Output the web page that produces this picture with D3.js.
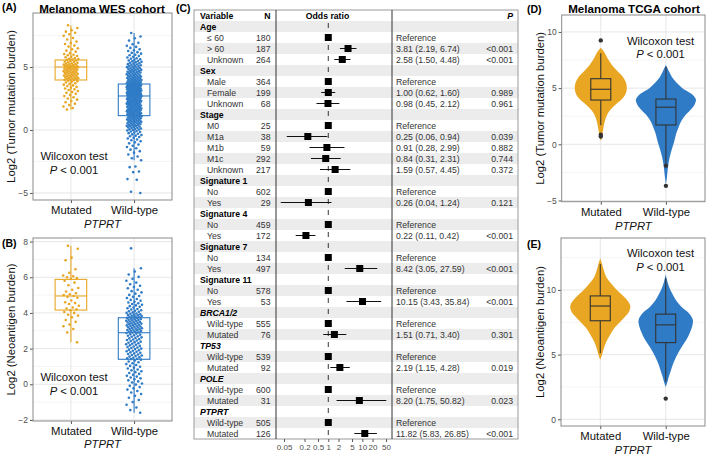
<!DOCTYPE html>
<html><head><meta charset="utf-8">
<script src="https://cdn.jsdelivr.net/npm/d3@7"></script>
<style>
body{margin:0;background:#fff}
svg{display:block;font-family:"Liberation Sans",Arial,sans-serif}
</style>
</head><body>
<svg id="c" width="709" height="458"></svg>
<script>
// ---------------- DATA ----------------
const groups = ["Mutated", "Wild-type"];

// (A) WES cohort, log2 tumor mutation burden (jittered points)
const wesTmbMut = [8.32,8.1,7.93,7.81,7.72,7.6,7.48,7.31,7.18,7.02,6.91,6.83,6.7,6.62,6.49,6.41,6.3,6.22,6.1,6.04,5.98,5.93,5.87,5.82,5.78,5.71,5.66,5.63,5.59,5.57,5.52,5.48,5.44,5.41,5.37,5.33,5.3,5.27,5.24,5.21,5.19,5.16,5.13,5.11,5.08,5.06,5.03,5.01,4.99,4.97,4.94,4.91,4.89,4.86,4.83,4.81,4.78,4.76,4.73,4.7,4.68,4.66,4.63,4.6,4.58,4.56,4.53,4.5,4.48,4.45,4.42,4.4,4.37,4.35,4.32,4.3,4.27,4.24,4.22,4.19,4.16,4.14,4.11,4.09,4.06,4.03,4.01,3.98,3.95,3.91,3.87,3.82,3.77,3.71,3.66,3.6,3.54,3.49,3.42,3.36,3.3,3.24,3.17,3.1,3.02,2.95,2.87,2.78,2.69,2.6,2.5,2.41,2.3,2.2,2.09,1.98,1.86,1.74,1.62];
const wesTmbWt = [7.7,7.42,7.28,7.1,6.93,6.81,6.69,6.6,6.52,6.41,6.33,6.27,6.18,6.12,6.06,5.98,5.93,5.87,5.81,5.76,5.7,5.66,5.61,5.57,5.52,5.48,5.45,5.41,5.37,5.33,5.3,5.27,5.23,5.2,5.17,5.14,5.11,5.08,5.05,5.02,4.99,4.96,4.93,4.9,4.88,4.85,4.82,4.79,4.77,4.74,4.71,4.69,4.66,4.63,4.61,4.58,4.56,4.53,4.51,4.48,4.46,4.43,4.41,4.38,4.36,4.34,4.31,4.29,4.27,4.24,4.22,4.2,4.18,4.15,4.13,4.11,4.09,4.07,4.05,4.02,4.0,3.98,3.96,3.94,3.92,3.9,3.88,3.86,3.84,3.82,3.8,3.79,3.77,3.75,3.73,3.71,3.69,3.68,3.66,
3.64,3.62,3.61,3.59,3.58,3.56,3.55,3.55,3.53,3.51,3.5,3.48,3.47,3.46,3.45,3.43,3.42,3.41,3.39,3.38,3.38,3.36,3.34,3.33,3.31,3.3,3.29,3.28,3.26,3.25,3.24,3.22,3.21,3.2,3.19,3.17,3.16,3.14,3.13,3.12,3.11,3.09,3.08,3.06,3.05,3.04,3.03,3.01,2.99,2.98,2.97,2.96,2.94,2.93,2.91,2.9,2.89,2.88,2.86,2.85,2.84,2.82,2.81,2.8,2.78,2.77,2.76,2.75,2.74,2.72,2.71,2.71,
2.69,2.67,2.65,2.64,2.62,2.6,2.58,2.57,2.55,2.53,2.51,2.5,2.48,2.46,2.44,2.43,2.41,2.39,2.37,2.36,2.34,2.32,2.3,2.28,2.27,2.25,2.23,2.21,2.2,2.18,2.16,2.14,2.12,2.11,2.09,2.07,2.05,2.03,2.02,2.0,1.98,1.96,1.94,1.93,1.91,1.89,1.87,1.85,1.84,1.82,1.8,1.78,1.76,1.75,1.73,1.71,1.69,1.67,1.66,1.64,1.62,1.6,1.58,1.57,1.55,1.53,1.51,1.49,1.48,1.46,1.44,1.42,1.4,1.39,1.37,1.35,1.33,1.31,1.3,1.28,1.26,1.24,1.22,1.21,1.19,1.17,1.15,
1.13,1.11,1.09,1.07,1.05,1.03,1.01,0.99,0.97,0.95,0.93,0.91,0.89,0.87,0.85,0.83,0.8,0.78,0.76,0.74,0.72,0.7,0.67,0.65,0.63,0.61,0.58,0.56,0.54,0.51,0.49,0.47,0.44,0.42,0.39,0.37,0.34,0.32,0.29,0.27,0.24,0.21,0.18,0.15,0.12,0.09,0.06,0.03,0.0,-0.04,-0.08,-0.12,-0.16,-0.2,-0.25,-0.3,-0.35,-0.4,-0.45,-0.5,-0.56,-0.62,-0.68,-0.75,-0.82,-0.9,-0.98,-1.06,-1.15,-1.25,-1.35,-1.45,-1.56,-1.68,-1.8,-1.95,-2.1,-2.25,-2.4,-2.9,-2.95,-3.3,-3.35,-3.9,-3.95,-4.9,-5.0];
// box stats [lower whisker, Q1, median, Q3, upper whisker]
const wesTmbBoxMut = [1.6, 3.97, 5.0, 5.56, 8.3];
const wesTmbBoxWt  = [-2.4, 1.14, 2.7, 3.65, 7.7];

// (B) WES cohort, log2 neoantigen burden
const wesNeoMut = [7.76,7.6,7.1,6.95,6.45,6.25,6.1,6.05,6.0,5.95,5.9,5.8,5.7,5.55,5.4,5.3,5.2,5.1,5.05,5.0,4.95,4.9,4.85,4.7,4.6,4.55,4.5,4.4,4.3,4.25,4.2,4.15,4.05,4.0,3.9,3.85,3.75,3.6,3.5,3.35,3.25,3.1,2.9,2.35];
const wesNeoWt = [7.62,6.5,6.32,6.15,6.02,5.91,5.8,5.7,5.61,5.52,5.45,5.38,5.3,5.22,5.15,5.08,5.01,4.95,4.9,4.84,4.78,4.73,4.68,4.63,4.58,4.54,4.5,4.46,4.42,4.38,4.34,4.3,4.26,4.22,4.19,4.15,4.12,4.09,4.06,4.03,4.0,3.97,3.95,3.92,3.9,3.88,3.86,3.84,3.82,3.8,3.78,3.76,3.74,
3.72,3.7,3.68,3.66,3.64,3.62,3.6,3.58,3.56,3.54,3.52,3.5,3.48,3.46,3.44,3.42,3.4,3.38,3.36,3.34,3.32,3.3,3.28,3.26,3.24,3.22,3.2,3.18,3.16,3.14,3.12,3.1,3.08,3.06,3.04,3.02,3.0,2.98,2.96,2.94,2.92,2.9,
2.87,2.84,2.81,2.78,2.75,2.72,2.69,2.66,2.63,2.6,2.57,2.54,2.51,2.48,2.45,2.42,2.39,2.36,2.33,2.3,2.27,2.24,2.21,2.18,2.15,2.12,2.09,2.06,2.03,2.0,1.97,1.94,1.91,1.88,1.85,1.82,1.79,1.76,1.73,1.7,1.67,1.64,1.61,1.58,1.55,1.52,1.49,1.46,1.43,1.41,
1.38,1.33,1.28,1.23,1.18,1.13,1.08,1.03,0.98,0.93,0.88,0.83,0.78,0.73,0.68,0.63,0.58,0.53,0.48,0.43,0.38,0.33,0.28,0.22,0.16,0.1,0.04,-0.02,-0.09,-0.16,-0.23,-0.3,-0.38,-0.46,-0.55,-0.65,-0.76,-0.88,-1.0,-1.15,-1.3,-1.45,-1.6];
const wesNeoBoxMut = [2.35, 4.16, 4.95, 5.88, 7.76];
const wesNeoBoxWt  = [-1.6, 1.4, 2.89, 3.73, 6.5];

// (C) Forest plot table
const rowLabels = ["Age","≤ 60","> 60","Unknown","Sex","Male","Female","Unknown","Stage","M0","M1a","M1b","M1c","Unknown",
  "Signature 1","No","Yes","Signature 4","No","Yes","Signature 7","No","Yes","Signature 11","No","Yes",
  "BRCA1/2","Wild-type","Mutated","TP53","Wild-type","Mutated","POLE","Wild-type","Mutated","PTPRT","Wild-type","Mutated"];
const rowN  = [null,180,187,264,null,364,199,68,null,25,38,59,292,217,null,602,29,null,459,172,null,134,497,null,578,53,null,555,76,null,539,92,null,600,31,null,505,126];
const rowOR = [null,1,3.81,2.58,null,1,1.00,0.98,null,1,0.25,0.91,0.84,1.59,null,1,0.26,null,1,0.22,null,1,8.42,null,1,10.15,null,1,1.51,null,1,2.19,null,1,8.20,null,1,11.82];
const rowLo = [null,null,2.19,1.50,null,null,0.62,0.45,null,null,0.06,0.28,0.31,0.57,null,null,0.04,null,null,0.11,null,null,3.05,null,null,3.43,null,null,0.71,null,null,1.15,null,null,1.75,null,null,5.83];
const rowHi = [null,null,6.74,4.48,null,null,1.60,2.12,null,null,0.94,2.99,2.31,4.45,null,null,1.24,null,null,0.42,null,null,27.59,null,null,35.84,null,null,3.40,null,null,4.28,null,null,50.82,null,null,26.85];
const rowP  = ["","","<0.001","<0.001","","","0.989","0.961","","","0.039","0.882","0.744","0.372","","","0.121","","","<0.001","","","<0.001","","","<0.001","","","0.301","","","0.019","","","0.023","","","<0.001"];
const italicHeaders = ["BRCA1/2","TP53","POLE","PTPRT"];
const orTicks = [0.05,0.2,0.5,1,2,5,10,20,50];

// (D) TCGA cohort, log2 TMB violin densities [value, density]
const tcgaTmbDensMut = [[8.6,0],[8.3,0.09],[8.0,0.16],[7.5,0.26],[7.0,0.39],[6.5,0.56],[6.0,0.74],[5.5,0.84],[5.0,0.87],[4.5,0.83],[4.0,0.7],[3.5,0.48],[3.0,0.3],[2.5,0.19],[2.0,0.13],[1.5,0.09],[1.0,0.06],[0.6,0.035],[0.3,0]];
const tcgaTmbDensWt  = [[7.05,0],[6.5,0.1],[6.0,0.2],[5.5,0.35],[5.0,0.55],[4.5,0.85],[4.0,1.0],[3.5,0.95],[3.0,0.8],[2.5,0.62],[2.0,0.5],[1.5,0.42],[1.0,0.35],[0.5,0.3],[0.0,0.25],[-0.5,0.19],[-1.0,0.14],[-1.5,0.1],[-2.0,0.07],[-2.5,0.05],[-3.0,0.03],[-3.6,0]];
const tcgaTmbBoxMut = [1.7, 3.94, 4.9, 5.84, 8.1];
const tcgaTmbBoxWt  = [-1.7, 1.72, 3.3, 4.03, 6.9];
const tcgaTmbOutMut = [9.25, 0.85, 0.7];
const tcgaTmbOutWt  = [-1.9, -3.7];

// (E) TCGA cohort, log2 neoantigen burden
const tcgaNeoDensMut = [[12.45,0],[12.0,0.06],[11.5,0.12],[11.0,0.2],[10.5,0.36],[10.0,0.55],[9.5,0.78],[9.0,0.96],[8.7,1.0],[8.3,0.95],[8.0,0.85],[7.5,0.65],[7.0,0.45],[6.5,0.32],[6.0,0.2],[5.5,0.12],[5.0,0.06],[4.6,0]];
const tcgaNeoDensWt  = [[11.2,0],[10.7,0.05],[10.2,0.12],[9.7,0.22],[9.2,0.34],[8.7,0.52],[8.2,0.77],[7.7,0.9],[7.2,0.88],[6.7,0.8],[6.2,0.7],[5.7,0.56],[5.2,0.43],[4.7,0.32],[4.2,0.23],[3.7,0.16],[3.2,0.09],[2.8,0.045],[2.5,0]];
const tcgaNeoBoxMut = [5.1, 7.62, 8.76, 9.54, 12.0];
const tcgaNeoBoxWt  = [2.9, 5.93, 7.3, 8.13, 10.9];
const tcgaNeoOutMut = [];
const tcgaNeoOutWt  = [1.6];

// ---------------- STYLE ----------------
const ORANGE = "#E8A623", BLUE = "#2F7BC6";
const colorOf = {"Mutated": ORANGE, "Wild-type": BLUE};
const svg = d3.select("#c");

function txt(x, y, s, o = {}) {
  const t = svg.append("text").attr("x", x).attr("y", y).text(s)
    .attr("font-size", o.size || 11).attr("fill", o.fill || "#000")
    .attr("text-anchor", o.anchor || "start");
  if (o.bold) t.attr("font-weight", "bold");
  if (o.italic) t.attr("font-style", "italic");
  if (o.rotate) t.attr("transform", `rotate(-90,${x},${y})`);
  return t;
}

function frame(o) {
  const {left, right, top, bottom, domain, majors, minors} = o;
  const y = d3.scaleLinear().domain(domain).range([bottom, top]);
  const x = d3.scalePoint().domain(groups).range([left, right]).padding(0.6);
  const g = svg.append("g");
  g.append("rect").attr("x", left).attr("y", top).attr("width", right - left).attr("height", bottom - top).attr("fill", "#fff");
  g.selectAll(null).data(minors).join("line")
    .attr("x1", left).attr("x2", right).attr("y1", d => y(d)).attr("y2", d => y(d))
    .attr("stroke", "#f0f0f0").attr("stroke-width", 0.7);
  g.selectAll(null).data(majors).join("line")
    .attr("x1", left).attr("x2", right).attr("y1", d => y(d)).attr("y2", d => y(d))
    .attr("stroke", "#e3e3e3").attr("stroke-width", 0.9);
  g.selectAll(null).data(groups).join("line")
    .attr("x1", d => x(d)).attr("x2", d => x(d)).attr("y1", top).attr("y2", bottom)
    .attr("stroke", "#e3e3e3").attr("stroke-width", 0.9);
  const ya = svg.append("g").attr("transform", `translate(${left},0)`)
    .call(d3.axisLeft(y).tickValues(majors).tickSize(3).tickPadding(2).tickFormat(d3.format("d")));
  ya.select(".domain").remove();
  ya.selectAll("line").attr("stroke", "#555");
  ya.selectAll("text").attr("font-size", 8.5).attr("fill", "#4d4d4d").attr("font-family", "Liberation Sans, Arial, sans-serif");
  const xa = svg.append("g").attr("transform", `translate(0,${bottom})`)
    .call(d3.axisBottom(x).tickSize(3).tickPadding(3));
  xa.select(".domain").remove();
  xa.selectAll("line").attr("stroke", "#555");
  xa.selectAll("text").attr("font-size", 11.3).attr("fill", "#111").attr("font-family", "Liberation Sans, Arial, sans-serif");
  txt((left + right) / 2, bottom + o.geneDy, "PTPRT", {size: 11.3, italic: true, anchor: "middle", fill: "#111"});
  txt(o.ylabX, (top + bottom) / 2, o.ylab, {size: 11.3, anchor: "middle", rotate: true, fill: "#111"});
  o.x = x; o.y = y;
  return o;
}

function border(o) {
  svg.append("rect").attr("x", o.left).attr("y", o.top).attr("width", o.right - o.left).attr("height", o.bottom - o.top)
    .attr("fill", "none").attr("stroke", "#8a8a8a").attr("stroke-width", 1);
}

function wilcoxon(cx, y) {
  txt(cx, y, "Wilcoxon test", {size: 11.3, anchor: "middle", fill: "#111"});
  const t = txt(cx, y + 13.5, "", {size: 11.3, anchor: "middle", fill: "#111"});
  t.append("tspan").attr("font-style", "italic").text("P");
  t.append("tspan").text(" < 0.001");
}

function jitterPanel(o, dataMut, dataWt, boxMut, boxWt, jw, r) {
  const {x, y} = o;
  const bw = x.step() * 0.25;
  [["Mutated", boxMut], ["Wild-type", boxWt]].forEach(([grp, b]) => {
    const cx = x(grp), c = colorOf[grp];
    const g = svg.append("g").attr("stroke", c).attr("stroke-width", 1.1).attr("fill", "none");
    g.append("line").attr("x1", cx).attr("x2", cx).attr("y1", y(b[0])).attr("y2", y(b[1]));
    g.append("line").attr("x1", cx).attr("x2", cx).attr("y1", y(b[3])).attr("y2", y(b[4]));
    g.append("rect").attr("x", cx - bw).attr("width", 2 * bw).attr("y", y(b[3])).attr("height", y(b[1]) - y(b[3]));
    g.append("line").attr("x1", cx - bw).attr("x2", cx + bw).attr("y1", y(b[2])).attr("y2", y(b[2]));
  });
  [["Mutated", dataMut], ["Wild-type", dataWt]].forEach(([grp, vals]) => {
    const cx = x(grp);
    svg.append("g").selectAll("circle").data(vals).join("circle")
      .attr("cx", (d, i) => cx + (((i * 0.6180339887 + 0.31) % 1) - 0.5) * 2 * jw)
      .attr("cy", d => y(d)).attr("r", r)
      .attr("fill", colorOf[grp]);
  });
}

function violinPanel(o, densMut, densWt, boxMut, boxWt, outMut, outWt) {
  const {x, y} = o;
  const w = d3.scaleLinear().domain([0, 1]).range([0, x.step() * 0.46]);
  [["Mutated", densMut], ["Wild-type", densWt]].forEach(([grp, dens]) => {
    const cx = x(grp);
    const area = d3.area().y(d => y(d[0])).x0(d => cx - w(d[1])).x1(d => cx + w(d[1])).curve(d3.curveCatmullRom);
    svg.append("path").attr("d", area(dens)).attr("fill", colorOf[grp]).attr("stroke", "none");
  });
  const bw = 10;
  [["Mutated", boxMut, outMut], ["Wild-type", boxWt, outWt]].forEach(([grp, b, outs]) => {
    const cx = x(grp);
    const g = svg.append("g").attr("stroke", "#333").attr("stroke-width", 1.1).attr("fill", "none");
    g.append("line").attr("x1", cx).attr("x2", cx).attr("y1", y(b[0])).attr("y2", y(b[1]));
    g.append("line").attr("x1", cx).attr("x2", cx).attr("y1", y(b[3])).attr("y2", y(b[4]));
    g.append("rect").attr("x", cx - bw).attr("width", 2 * bw).attr("y", y(b[3])).attr("height", y(b[1]) - y(b[3]));
    g.append("line").attr("x1", cx - bw).attr("x2", cx + bw).attr("y1", y(b[2])).attr("y2", y(b[2]));
    svg.append("g").selectAll("circle").data(outs).join("circle")
      .attr("cx", cx).attr("cy", d => y(d)).attr("r", 2.2).attr("fill", "#333");
  });
}

// ---------------- PANEL A ----------------
const pA = frame({left: 33, right: 172, top: 13, bottom: 200, domain: [-5.56, 9.29],
  majors: [-5, 0, 5], minors: [-2.5, 2.5, 7.5], ylab: "Log2 (Tumor mutation burden)", ylabX: 15, geneDy: 28});
jitterPanel(pA, wesTmbMut, wesTmbWt, wesTmbBoxMut, wesTmbBoxWt, 7.5, 1.3);
border(pA);
wilcoxon(74, 160);
txt(2, 11, "(A)", {size: 10.5, bold: true});
txt(102, 13, "Melanoma WES cohort", {size: 11.6, bold: true, anchor: "middle"});

// ---------------- PANEL B ----------------
const pB = frame({left: 33, right: 172, top: 238, bottom: 421, domain: [-2.06, 8.2],
  majors: [-2, 0, 2, 4, 6, 8], minors: [-1, 1, 3, 5, 7], ylab: "Log2 (Neoantigen burden)", ylabX: 15, geneDy: 27});
jitterPanel(pB, wesNeoMut, wesNeoWt, wesNeoBoxMut, wesNeoBoxWt, 8, 1.3);
border(pB);
wilcoxon(74, 381);
txt(2, 247, "(B)", {size: 10.5, bold: true});

// ---------------- PANEL D ----------------
const pD = frame({left: 561.7, right: 705, top: 15, bottom: 201.7, domain: [-5.11, 11.51],
  majors: [-5, 0, 5, 10], minors: [-2.5, 2.5, 7.5], ylab: "Log2 (Tumor mutation burden)", ylabX: 544, geneDy: 28});
violinPanel(pD, tcgaTmbDensMut, tcgaTmbDensWt, tcgaTmbBoxMut, tcgaTmbBoxWt, tcgaTmbOutMut, tcgaTmbOutWt);
border(pD);
wilcoxon(660.5, 44.5);
txt(527, 13, "(D)", {size: 10.5, bold: true});
txt(634, 13, "Melanoma TCGA cohort", {size: 11.6, bold: true, anchor: "middle"});

// ---------------- PANEL E ----------------
const pE = frame({left: 561, right: 705, top: 238, bottom: 426, domain: [-0.52, 14.02],
  majors: [0, 5, 10], minors: [2.5, 7.5, 12.5], ylab: "Log2 (Neoantigen burden)", ylabX: 544, geneDy: 28});
violinPanel(pE, tcgaNeoDensMut, tcgaNeoDensWt, tcgaNeoBoxMut, tcgaNeoBoxWt, tcgaNeoOutMut, tcgaNeoOutWt);
border(pE);
wilcoxon(660.5, 257);
txt(527, 248, "(E)", {size: 10.5, bold: true});

// ---------------- PANEL C (forest) ----------------
const T = {left: 194, right: 518, top: 10, head: 21, bottom: 439, colN: 270.5, div1: 276, div2: 392, colOR: 396, colP: 513};
const rowY = d3.scaleBand().domain(d3.range(rowLabels.length)).range([T.head, T.bottom]);
const fx = d3.scaleLog().domain([0.029, 74.7]).range([T.div1, T.div2]);
const FS = 8.7;
txt(176, 12, "(C)", {size: 10.5, bold: true});
svg.append("rect").attr("x", T.left).attr("y", T.top).attr("width", T.right - T.left).attr("height", T.bottom - T.top).attr("fill", "#fff");
svg.append("g").selectAll("rect").data(rowLabels.map((d, i) => i).filter(i => i % 2 === 0)).join("rect")
  .attr("x", T.left).attr("width", T.right - T.left).attr("y", i => rowY(i)).attr("height", rowY.bandwidth())
  .attr("fill", "#ececec");
const hy = (T.top + T.head) / 2 + 3;
txt(T.left + 6, hy, "Variable", {size: FS, bold: true});
txt(T.colN, hy, "N", {size: FS, bold: true, anchor: "end"});
txt(327.5, hy, "Odds ratio", {size: FS, bold: true, anchor: "middle"});
txt(T.colP, hy, "P", {size: FS, bold: true, italic: true, anchor: "end"});
svg.append("line").attr("x1", fx(1)).attr("x2", fx(1)).attr("y1", T.head + 2).attr("y2", T.bottom)
  .attr("stroke", "#222").attr("stroke-width", 0.9).attr("stroke-dasharray", "5,6");
rowLabels.forEach((lab, i) => {
  const cy = rowY(i) + rowY.bandwidth() / 2 + 3;
  const isHead = rowN[i] === null;
  if (isHead) {
    txt(T.left + 6, cy, lab, {size: FS, bold: true, italic: italicHeaders.includes(lab)});
    return;
  }
  txt(T.left + 13, cy, lab, {size: FS, fill: "#333"});
  txt(T.colN, cy, String(rowN[i]), {size: FS, fill: "#333", anchor: "end"});
  const ref = rowLo[i] === null;
  txt(T.colOR, cy, ref ? "Reference" : `${rowOR[i].toFixed(2)} (${rowLo[i].toFixed(2)}, ${rowHi[i].toFixed(2)})`, {size: FS, fill: "#333"});
  if (rowP[i]) txt(T.colP, cy, rowP[i], {size: FS, fill: "#333", anchor: "end"});
  const my = rowY(i) + rowY.bandwidth() / 2;
  if (!ref) {
    svg.append("line").attr("x1", fx(rowLo[i])).attr("x2", fx(rowHi[i])).attr("y1", my).attr("y2", my)
      .attr("stroke", "#111").attr("stroke-width", 1);
  }
  svg.append("rect").attr("x", fx(rowOR[i]) - 3.5).attr("y", my - 3.5).attr("width", 7).attr("height", 7).attr("fill", "#000");
});
svg.append("rect").attr("x", T.left).attr("y", T.top).attr("width", T.right - T.left).attr("height", T.bottom - T.top)
  .attr("fill", "none").attr("stroke", "#9a9a9a").attr("stroke-width", 1);
[T.div1, T.div2].forEach(xv => svg.append("line").attr("x1", xv).attr("x2", xv).attr("y1", T.top).attr("y2", T.bottom)
  .attr("stroke", "#333").attr("stroke-width", 1));
const fa = svg.append("g").attr("transform", `translate(0,${T.bottom})`)
  .call(d3.axisBottom(fx).tickValues(orTicks).tickFormat(d => String(d)).tickSize(3).tickPadding(2));
fa.select(".domain").remove();
fa.selectAll("line").attr("stroke", "#555");
fa.selectAll("text").attr("font-size", 8).attr("fill", "#4d4d4d").attr("font-family", "Liberation Sans, Arial, sans-serif");
</script>
</body></html>
